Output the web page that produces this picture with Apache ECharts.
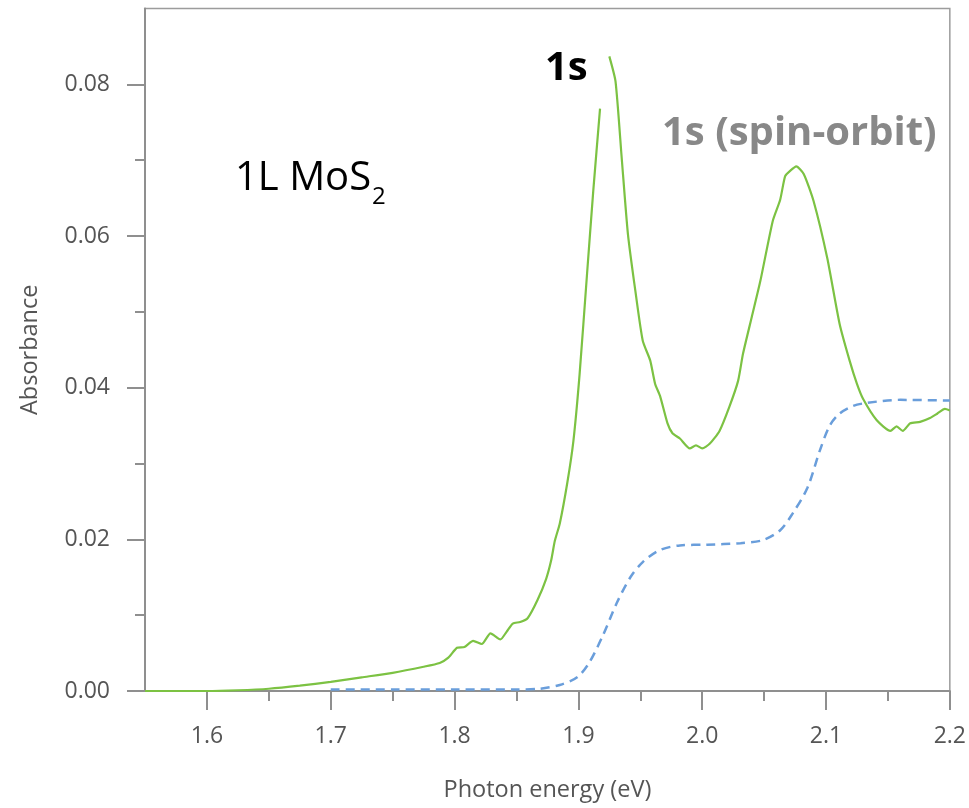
<!DOCTYPE html>
<html>
<head>
<meta charset="utf-8">
<script src="https://cdn.jsdelivr.net/npm/echarts@6/dist/echarts.min.js"></script>
<style>
  html, body { margin: 0; padding: 0; background: #fff; }
  #chart { width: 969px; height: 808px; }
</style>
</head>
<body>
<div id="chart"></div>
<script>
// measured absorbance, 1L MoS2 (green), null = break in the trace
var greenX = [1.55, 1.575, 1.6, 1.625, 1.65, 1.675, 1.7, 1.725, 1.75, 1.775,
              1.788, 1.795, 1.802, 1.808, 1.815, 1.822, 1.829, 1.837, 1.842, 1.847,
              1.853, 1.859, 1.867, 1.874, 1.878, 1.881, 1.885, 1.891, 1.896, 1.901,
              1.907, 1.912, 1.9175, 1.921, 1.925, 1.930, 1.935, 1.940, 1.946, 1.952,
              1.958, 1.962, 1.966, 1.972, 1.976, 1.982, 1.990, 1.995, 2.0, 2.006,
              2.014, 2.022, 2.029, 2.033, 2.040, 2.047, 2.057, 2.063, 2.067, 2.071,
              2.076, 2.082, 2.090, 2.101, 2.111, 2.119, 2.125, 2.130, 2.141, 2.152,
              2.157, 2.162, 2.168, 2.176, 2.184, 2.190, 2.196, 2.2];
var greenY = [0, 0, 0, 0.0001, 0.0003, 0.0007, 0.0012, 0.0018, 0.0024, 0.0032,
              0.0037, 0.0044, 0.0057, 0.0058, 0.0066, 0.0062, 0.0076, 0.0068, 0.0078, 0.0089,
              0.0091, 0.0096, 0.012, 0.0148, 0.0172, 0.0198, 0.0221, 0.0274, 0.033, 0.0418,
              0.055, 0.0659, 0.0768, null, 0.0837, 0.0804, 0.0703, 0.0603, 0.0528, 0.0462,
              0.0436, 0.0405, 0.0389, 0.0353, 0.0340, 0.0333, 0.0320, 0.0324, 0.0320, 0.0326,
              0.0343, 0.0375, 0.0409, 0.0445, 0.0493, 0.0541, 0.0620, 0.0648, 0.0679, 0.0686,
              0.0692, 0.0682, 0.0646, 0.0571, 0.0484, 0.0436, 0.0405, 0.0385, 0.0357, 0.0343,
              0.0349, 0.0343, 0.0353, 0.0355, 0.0360, 0.0366, 0.0372, 0.0370];

// dashed blue curve
var blueX = [1.70, 1.75, 1.80, 1.85, 1.869, 1.885, 1.899, 1.909, 1.92, 1.931,
             1.942, 1.952, 1.966, 1.982, 2.004, 2.031, 2.049, 2.063, 2.073, 2.085,
             2.095, 2.103, 2.111, 2.122, 2.133, 2.16, 2.2];
var blueY = [0.0002, 0.0002, 0.0002, 0.0002, 0.0003, 0.0008, 0.0018, 0.0038, 0.0074, 0.0116,
             0.015, 0.017, 0.0186, 0.0192, 0.0193, 0.0195, 0.0199, 0.0212, 0.0234, 0.0268,
             0.0317, 0.0350, 0.0366, 0.0376, 0.0380, 0.0384, 0.0383];

var xMajor = [1.6, 1.7, 1.8, 1.9, 2.0, 2.1, 2.2];
var xMinor = [1.65, 1.75, 1.85, 1.95, 2.05, 2.15];
var yMajor = [0, 0.02, 0.04, 0.06, 0.08];
var yMinor = [0.01, 0.03, 0.05, 0.07];

var axisGray = '#8f8f8f';
var labelFont = '"Open Sans", sans-serif';

function pairs(xs, ys) {
  var out = [];
  for (var i = 0; i < xs.length; i++) out.push([xs[i], ys[i]]);
  return out;
}

// width of "1L MoS" to place the subscript
var cv = document.createElement('canvas').getContext('2d');
cv.font = '40px "Open Sans"';
var moWidth = cv.measureText('1L MoS').width;

var myChart = echarts.init(document.getElementById('chart'));

var option = {
  backgroundColor: '#fff',
  animation: false,
  grid: {
    left: 145, right: 19, top: 8.6, bottom: 117,
    show: true, borderColor: '#9c9c9c', borderWidth: 1.5
  },
  xAxis: [{
    type: 'value', min: 1.55, max: 2.2,
    splitLine: { show: false },
    axisLine: { lineStyle: { color: axisGray, width: 2 } },
    axisTick: { customValues: xMajor, length: 19, lineStyle: { color: axisGray, width: 2 } },
    axisLabel: {
      customValues: xMajor, margin: 34, color: '#555',
      fontFamily: labelFont, fontSize: 23,
      formatter: function (v) { return v.toFixed(1); }
    },
    name: 'Photon energy (eV)', nameLocation: 'middle', nameGap: 87,
    nameTextStyle: { color: '#555', fontFamily: labelFont, fontSize: 23.5 }
  }, {
    type: 'value', min: 1.55, max: 2.2, position: 'bottom',
    splitLine: { show: false },
    axisLine: { show: false },
    axisTick: { customValues: xMinor, length: 10, lineStyle: { color: axisGray, width: 2 } },
    axisLabel: { show: false }
  }],
  yAxis: [{
    type: 'value', min: 0, max: 0.09,
    splitLine: { show: false },
    axisLine: { lineStyle: { color: axisGray, width: 2 } },
    axisTick: { customValues: yMajor, length: 18, lineStyle: { color: axisGray, width: 2 } },
    axisLabel: {
      customValues: yMajor, margin: 35, color: '#555',
      fontFamily: labelFont, fontSize: 23,
      formatter: function (v) { return v.toFixed(2); }
    },
    name: 'Absorbance', nameLocation: 'middle', nameGap: 103,
    nameTextStyle: { color: '#555', fontFamily: labelFont, fontSize: 23.5 }
  }, {
    type: 'value', min: 0, max: 0.09, position: 'left',
    splitLine: { show: false },
    axisLine: { show: false },
    axisTick: { customValues: yMinor, length: 10, lineStyle: { color: axisGray, width: 2 } },
    axisLabel: { show: false }
  }],
  graphic: [
    { type: 'text', x: 235, y: 159, style: { text: '1L MoS', fill: '#000', font: '40px "Open Sans"' } },
    { type: 'text', x: 235 + moWidth + 1, y: 185, style: { text: '2', fill: '#000', font: '24px "Open Sans"' } },
    { type: 'text', x: 545, y: 49, style: { text: '1s', fill: '#000', font: 'bold 40px "Open Sans"' } },
    { type: 'text', x: 662, y: 114, style: { text: '1s (spin-orbit)', fill: '#888', font: 'bold 40px "Open Sans"' } }
  ],
  series: [{
    name: 'measured', type: 'line', xAxisIndex: 0, yAxisIndex: 0,
    data: pairs(greenX, greenY),
    showSymbol: false, connectNulls: false, smooth: 0.2,
    lineStyle: { color: '#7cc243', width: 2.2 }
  }, {
    name: 'continuum', type: 'line', xAxisIndex: 0, yAxisIndex: 0,
    data: pairs(blueX, blueY),
    showSymbol: false, smooth: 0.3,
    lineStyle: { color: '#6a9edb', width: 2.5, type: [9, 6] }
  }]
};

myChart.setOption(option);
</script>
</body>
</html>
